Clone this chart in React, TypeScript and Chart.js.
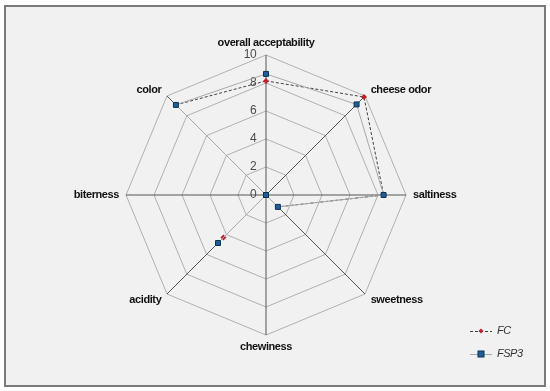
import React, { useEffect, useRef } from "react";
import { Chart, registerables } from "chart.js";

Chart.register(...registerables);

const categories = [
  "overall acceptability",
  "cheese odor",
  "saltiness",
  "sweetness",
  "chewiness",
  "acidity",
  "biterness",
  "color",
];
const fcValues = [8.15, 9.9, 8.4, 1.2, 0, 4.3, 0, 9.1];
const fsp3Values = [8.65, 9.15, 8.4, 1.2, 0, 4.85, 0, 9.1];
const tickValues = [0, 2, 4, 6, 8, 10];
const seriesNames = ["FC", "FSP3"];

const FONT = "'Liberation Sans', Arial, sans-serif";

const tickPlugin = {
  id: "customTicks",
  beforeDatasetsDraw(chart: any) {
    const scale = chart.scales.r;
    const ctx = chart.ctx;
    ctx.save();
    ctx.font = `12px ${FONT}`;
    (ctx as any).letterSpacing = "-0.6px";
    ctx.fillStyle = "#4a4a4a";
    ctx.textAlign = "right";
    ctx.textBaseline = "middle";
    tickValues.forEach((v) => {
      const d = scale.getDistanceFromCenterForValue(v);
      ctx.fillText(String(v), scale.xCenter - 10, scale.yCenter - d);
    });
    ctx.restore();
  },
};

const pointLabelPlugin = {
  id: "customPointLabels",
  afterDraw(chart: any) {
    const scale = chart.scales.r;
    const ctx = chart.ctx;
    const r = scale.drawingArea;
    ctx.save();
    ctx.font = `bold 11px ${FONT}`;
    (ctx as any).letterSpacing = "-0.4px";
    ctx.fillStyle = "#111";
    ctx.textBaseline = "middle";
    categories.forEach((label, i) => {
      const angleDeg = Math.round((360 / categories.length) * i);
      let dist = r + 8;
      if (angleDeg === 0 || angleDeg === 180) dist = r + 12;
      else if (angleDeg === 90 || angleDeg === 270) dist = r + 7;
      const p = scale.getPointPosition(i, dist);
      const dx = p.x - scale.xCenter;
      ctx.textAlign = Math.abs(dx) < 1 ? "center" : dx > 0 ? "left" : "right";
      ctx.fillText(label, p.x, p.y);
    });
    ctx.restore();
  },
};

const legendPlugin = {
  id: "customLegend",
  afterDraw(chart: any) {
    const ctx = chart.ctx;
    const x0 = 470;
    const x1 = 492;
    const items = [
      { name: seriesNames[0], y: 331, dash: [3, 2], line: "#404040" },
      { name: seriesNames[1], y: 354, dash: [], line: "#a8a8a8" },
    ];
    items.forEach((it, i) => {
      ctx.save();
      ctx.strokeStyle = it.line;
      ctx.lineWidth = 1;
      ctx.setLineDash(it.dash);
      ctx.beginPath();
      ctx.moveTo(x0, it.y + 0.5);
      ctx.lineTo(x1, it.y + 0.5);
      ctx.stroke();
      ctx.setLineDash([]);
      const mx = (x0 + x1) / 2;
      if (i === 0) {
        ctx.fillStyle = "#c0202a";
        ctx.beginPath();
        ctx.moveTo(mx, it.y - 2.5);
        ctx.lineTo(mx + 2.5, it.y);
        ctx.lineTo(mx, it.y + 2.5);
        ctx.lineTo(mx - 2.5, it.y);
        ctx.closePath();
        ctx.fill();
      } else {
        ctx.fillStyle = "#1f5f99";
        ctx.strokeStyle = "#0d2f50";
        ctx.fillRect(mx - 3, it.y - 3, 6, 6);
        ctx.strokeRect(mx - 3, it.y - 3, 6, 6);
      }
      ctx.font = `italic 11px ${FONT}`;
      (ctx as any).letterSpacing = "-0.5px";
      ctx.fillStyle = "#333";
      ctx.textAlign = "left";
      ctx.textBaseline = "middle";
      ctx.fillText(it.name, 497, it.y);
      ctx.restore();
    });
  },
};

export default function App() {
  const canvasRef = useRef<HTMLCanvasElement>(null);

  useEffect(() => {
    document.body.style.margin = "0";
    const canvas = canvasRef.current;
    if (!canvas) return;
    const chart = new Chart(canvas, {
      type: "radar",
      data: {
        labels: categories,
        datasets: [
          {
            label: seriesNames[0],
            data: fcValues,
            order: 1,
            fill: false,
            borderColor: "#404040",
            borderWidth: 1,
            borderDash: [3, 2],
            backgroundColor: "transparent",
            pointStyle: "rectRot",
            pointRadius: 3,
            pointBackgroundColor: "#c0202a",
            pointBorderColor: "#c0202a",
            pointBorderWidth: 0,
            tension: 0,
          },
          {
            label: seriesNames[1],
            data: fsp3Values,
            order: 0,
            fill: false,
            borderColor: "#a8a8a8",
            borderWidth: 1,
            backgroundColor: "transparent",
            pointStyle: "rect",
            pointRadius: 3.5,
            pointBackgroundColor: "#1f5f99",
            pointBorderColor: "#0d2f50",
            pointBorderWidth: 1,
            tension: 0,
          },
        ],
      },
      options: {
        animation: false,
        responsive: false,
        maintainAspectRatio: false,
        layout: { padding: { left: 126, right: 144, top: 55, bottom: 56 } },
        plugins: {
          legend: { display: false },
          tooltip: { enabled: false },
        },
        scales: {
          r: {
            min: 0,
            max: 10,
            ticks: { stepSize: 2, display: false },
            grid: { color: "#b0b0b0", lineWidth: 1 },
            angleLines: { color: "#555555", lineWidth: 1 },
            pointLabels: { display: false },
          },
        },
      },
      plugins: [tickPlugin, pointLabelPlugin, legendPlugin],
    });
    return () => chart.destroy();
  }, []);

  return (
    <div style={{ position: "relative", width: 550, height: 391, background: "#fff" }}>
      <div
        style={{
          position: "absolute",
          left: 4,
          top: 5,
          width: 542,
          height: 382,
          boxSizing: "border-box",
          border: "2px solid #7a7a7a",
          background: "#f1f1f1",
        }}
      />
      <canvas
        ref={canvasRef}
        width={550}
        height={391}
        style={{ position: "absolute", left: 0, top: 0, width: 550, height: 391 }}
      />
    </div>
  );
}
